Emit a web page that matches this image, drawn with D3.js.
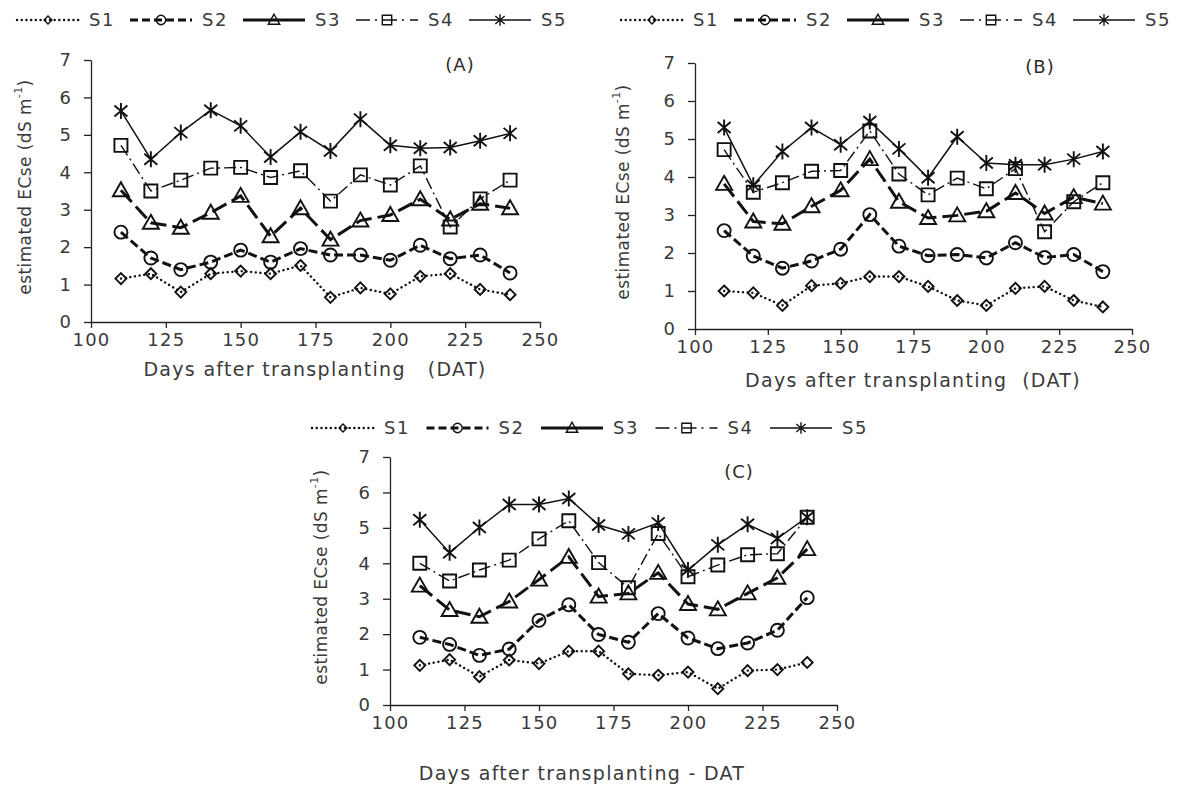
<!DOCTYPE html>
<html>
<head>
<meta charset="utf-8">
<script src="https://cdn.jsdelivr.net/npm/d3@7"></script>
<style>
  body { margin: 0; background: #fff; }
  text { font-family: "DejaVu Sans", sans-serif; fill: #3a3a3a; }
</style>
</head>
<body>
<svg id="chart" width="1179" height="785"></svg>
<script>
// days after transplanting (x values shared by every panel)
const days = [110, 120, 130, 140, 150, 160, 170, 180, 190, 200, 210, 220, 230, 240];
const seriesNames = ['S1', 'S2', 'S3', 'S4', 'S5'];
const yTicks = [0, 1, 2, 3, 4, 5, 6, 7];
const xTicks = [100, 125, 150, 175, 200, 225, 250];

// panel A
const A_S1 = [1.16, 1.29, 0.80, 1.29, 1.36, 1.29, 1.51, 0.66, 0.91, 0.75, 1.22, 1.29, 0.87, 0.73];
const A_S2 = [2.40, 1.71, 1.40, 1.60, 1.92, 1.60, 1.96, 1.79, 1.79, 1.65, 2.05, 1.69, 1.79, 1.31];
const A_S3 = [3.52, 2.65, 2.52, 2.92, 3.37, 2.29, 3.04, 2.20, 2.71, 2.86, 3.28, 2.74, 3.16, 3.04];
const A_S4 = [4.72, 3.50, 3.79, 4.11, 4.13, 3.86, 4.04, 3.23, 3.93, 3.66, 4.17, 2.54, 3.29, 3.79];
const A_S5 = [5.64, 4.35, 5.06, 5.66, 5.24, 4.41, 5.08, 4.57, 5.42, 4.72, 4.64, 4.66, 4.84, 5.04];

// panel B
const B_S1 = [1.00, 0.95, 0.62, 1.14, 1.20, 1.38, 1.38, 1.12, 0.75, 0.62, 1.07, 1.12, 0.75, 0.58];
const B_S2 = [2.59, 1.92, 1.60, 1.79, 2.10, 3.01, 2.18, 1.93, 1.96, 1.87, 2.27, 1.88, 1.96, 1.51];
const B_S3 = [3.82, 2.83, 2.77, 3.23, 3.65, 4.47, 3.35, 2.92, 2.99, 3.10, 3.58, 3.04, 3.47, 3.30];
const B_S4 = [4.72, 3.60, 3.85, 4.15, 4.17, 5.21, 4.08, 3.53, 3.97, 3.69, 4.22, 2.56, 3.35, 3.85];
const B_S5 = [5.30, 3.78, 4.67, 5.30, 4.85, 5.46, 4.74, 3.98, 5.06, 4.37, 4.32, 4.32, 4.47, 4.67];

// panel C
const C_S1 = [1.12, 1.28, 0.80, 1.27, 1.17, 1.52, 1.52, 0.88, 0.84, 0.93, 0.46, 0.97, 1.00, 1.20];
const C_S2 = [1.91, 1.71, 1.40, 1.58, 2.39, 2.83, 1.99, 1.77, 2.58, 1.89, 1.59, 1.75, 2.11, 3.03];
const C_S3 = [3.37, 2.68, 2.49, 2.92, 3.54, 4.18, 3.06, 3.15, 3.73, 2.85, 2.70, 3.15, 3.59, 4.40];
const C_S4 = [4.00, 3.50, 3.81, 4.09, 4.69, 5.20, 4.02, 3.31, 4.84, 3.62, 3.95, 4.24, 4.27, 5.30];
const C_S5 = [5.23, 4.30, 5.01, 5.66, 5.66, 5.83, 5.08, 4.83, 5.14, 3.81, 4.52, 5.10, 4.70, 5.30];

const svg = d3.select('#chart');

// line + marker style for each series
const styles = {
  S1: { width: 2.4, dash: '0.1,4.6', cap: 'round', legendDash: '0.1,4.6', marker: 'diamond' },
  S2: { width: 3, dash: '9,4', cap: 'butt', legendDash: '8,4', marker: 'circle' },
  S3: { width: 3, dash: '16,6', cap: 'butt', legendDash: null, marker: 'triangle' },
  S4: { width: 1.4, dash: '12,4,2,4', cap: 'butt', legendDash: '14,5,2,6', marker: 'square' },
  S5: { width: 1.5, dash: null, cap: 'butt', legendDash: null, marker: 'star' }
};

function markerPath(type, k) {
  const p = d3.path();
  if (type === 'diamond') {
    p.moveTo(0, -5.5 * k); p.lineTo(5.5 * k, 0); p.lineTo(0, 5.5 * k); p.lineTo(-5.5 * k, 0); p.closePath();
  } else if (type === 'circle') {
    p.arc(0, 0, 6.5 * k, 0, 2 * Math.PI);
  } else if (type === 'triangle') {
    p.moveTo(0, -8 * k); p.lineTo(8 * k, 6 * k); p.lineTo(-8 * k, 6 * k); p.closePath();
  } else if (type === 'square') {
    p.rect(-6.5 * k, -6.5 * k, 13 * k, 13 * k);
  } else if (type === 'star') {
    p.moveTo(0, -8 * k); p.lineTo(0, 8 * k);
    p.moveTo(-6.5 * k, -5.5 * k); p.lineTo(6.5 * k, 5.5 * k);
    p.moveTo(-6.5 * k, 5.5 * k); p.lineTo(6.5 * k, -5.5 * k);
  }
  return p.toString();
}

const panels = [
  { label: '(A)', data: [A_S1, A_S2, A_S3, A_S4, A_S5], left: 91, right: 540, top: 60, bottom: 322,
    labelX: 460, labelY: 66, legendY: 20, legendX: 89, legendStep: 113,
    xTitle: 'Days after transplanting \u00a0 (DAT)', xTitleX: 315, xTitleY: 370, yTitleX: 26 },
  { label: '(B)', data: [B_S1, B_S2, B_S3, B_S4, B_S5], left: 695, right: 1132, top: 63, bottom: 329,
    labelX: 1040, labelY: 68, legendY: 20, legendX: 693, legendStep: 113,
    xTitle: 'Days after transplanting \u00a0(DAT)', xTitleX: 913, xTitleY: 381, yTitleX: 624 },
  { label: '(C)', data: [C_S1, C_S2, C_S3, C_S4, C_S5], left: 390, right: 837, top: 457, bottom: 705,
    labelX: 739, labelY: 473, legendY: 428, legendX: 384, legendStep: 114.5,
    xTitle: 'Days after transplanting - DAT', xTitleX: 582, xTitleY: 774, yTitleX: 322 }
];

panels.forEach(pn => {
  const x = d3.scaleLinear().domain([100, 250]).range([pn.left, pn.right]);
  const y = d3.scaleLinear().domain([0, 7]).range([pn.bottom, pn.top]);
  const g = svg.append('g');

  // axes
  const xAxis = g.append('g')
    .attr('transform', `translate(0,${pn.bottom})`)
    .call(d3.axisBottom(x).tickValues(xTicks).tickFormat(d3.format('d'))
      .tickSize(6).tickSizeOuter(0).tickPadding(5));
  const yAxis = g.append('g')
    .attr('transform', `translate(${pn.left},0)`)
    .call(d3.axisLeft(y).tickValues(yTicks).tickFormat(d3.format('d'))
      .tickSize(7).tickSizeOuter(0).tickPadding(13));
  [xAxis, yAxis].forEach(ax => {
    ax.select('.domain').attr('stroke', '#222').attr('stroke-width', 1.3);
    ax.selectAll('.tick line').attr('stroke', '#222').attr('stroke-width', 1.3);
    ax.selectAll('.tick text').attr('font-size', 18).attr('fill', '#3a3a3a')
      .attr('font-family', '"DejaVu Sans", sans-serif');
  });
  xAxis.selectAll('.tick text').attr('letter-spacing', 1.2);

  // titles
  g.append('text').attr('x', pn.xTitleX).attr('y', pn.xTitleY).attr('text-anchor', 'middle')
    .attr('dominant-baseline', 'middle').attr('font-size', 19).attr('letter-spacing', 1.3)
    .text(pn.xTitle);
  const yt = g.append('text')
    .attr('transform', `translate(${pn.yTitleX},${(pn.top + pn.bottom) / 2 - 4}) rotate(-90)`)
    .attr('text-anchor', 'middle').attr('dominant-baseline', 'middle').attr('font-size', 17)
    .attr('letter-spacing', 0.4);
  yt.append('tspan').text('estimated ECse (dS m');
  yt.append('tspan').attr('font-size', 11).attr('dy', -7).text('-1');
  yt.append('tspan').attr('dy', 7).text(')');

  g.append('text').attr('x', pn.labelX).attr('y', pn.labelY).attr('text-anchor', 'middle')
    .attr('dominant-baseline', 'middle').attr('font-size', 18).attr('letter-spacing', 1)
    .style('fill', '#2e2a26').text(pn.label);

  // series
  const line = d3.line().x((d, i) => x(days[i])).y(d => y(d));
  seriesNames.forEach((name, si) => {
    const st = styles[name];
    const vals = pn.data[si];
    g.append('path').datum(vals)
      .attr('d', line).attr('fill', 'none').attr('stroke', '#111')
      .attr('stroke-width', st.width).attr('stroke-dasharray', st.dash)
      .attr('stroke-linecap', st.cap);
    g.selectAll(null).data(vals).enter().append('path')
      .attr('transform', (d, i) => `translate(${x(days[i])},${y(d)})`)
      .attr('d', markerPath(st.marker, 1))
      .attr('fill', 'none').attr('stroke', '#111').attr('stroke-width', 1.9);
  });

  // legend
  const lg = g.append('g').attr('transform', `translate(0,${pn.legendY})`);
  seriesNames.forEach((name, si) => {
    const st = styles[name];
    const tx = pn.legendX + si * pn.legendStep;
    lg.append('line').attr('x1', tx - 72).attr('x2', tx - 10).attr('y1', 0).attr('y2', 0)
      .attr('stroke', '#111').attr('stroke-width', st.width)
      .attr('stroke-dasharray', st.legendDash).attr('stroke-linecap', st.cap);
    lg.append('path').attr('transform', `translate(${tx - 41},0)`)
      .attr('d', markerPath(st.marker, 0.72))
      .attr('fill', 'none').attr('stroke', '#111').attr('stroke-width', 1.4);
    lg.append('text').attr('x', tx).attr('y', 1).attr('dominant-baseline', 'middle')
      .attr('font-size', 18).attr('letter-spacing', 1.5).text(name);
  });
});
</script>
</body>
</html>
